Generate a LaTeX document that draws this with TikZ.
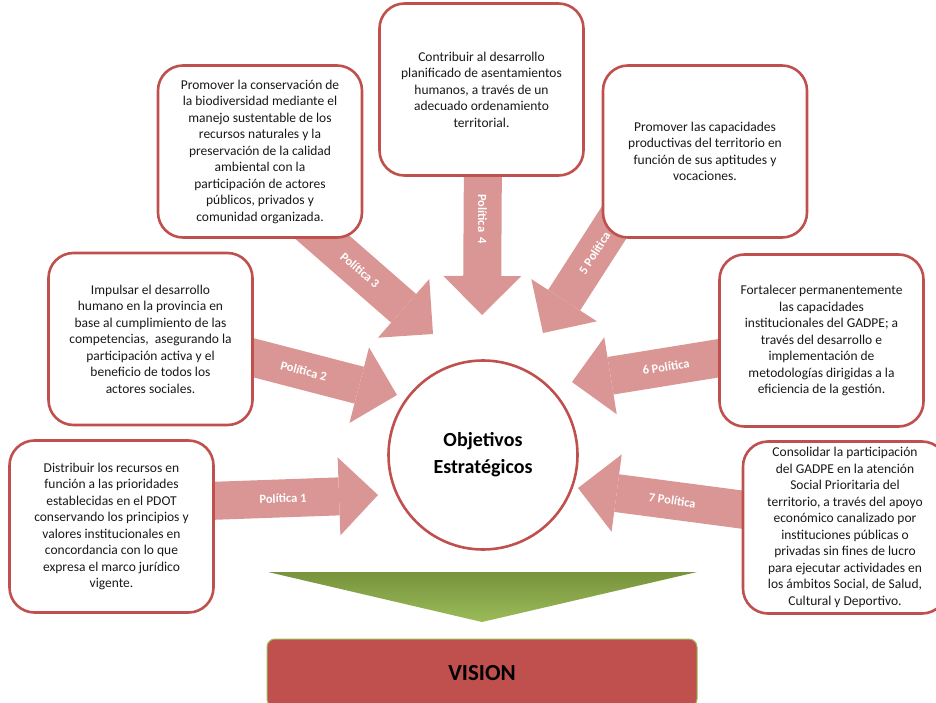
\documentclass[tikz,border=0pt]{standalone}
\usepackage{fontspec}
\setmainfont{Carlito}
\usetikzlibrary{arrows.meta}
\definecolor{boxred}{HTML}{C0504D}
\definecolor{arrowpink}{HTML}{D99694}
\definecolor{greendark}{HTML}{77933C}
\definecolor{greenlight}{HTML}{9BBB59}

\begin{document}
\begin{tikzpicture}[x=1pt, y=-1pt,
  polbox/.style={draw=boxred, line width=2.6pt, fill=white, rounded corners=25pt, minimum width=204pt, minimum height=172pt, align=center, text=black!90, font=\fontsize{13.5}{16.5}\selectfont},
  polarrow/.style={draw=arrowpink, line width=38pt, -{Triangle[length=39pt, width=78pt, line width=0pt]}},
  pollabel/.style={text=white, font=\bfseries\fontsize{12.5}{15}\selectfont}]
\useasboundingbox (0,0) rectangle (936,703);

\coordinate (src1) at (180,502);
\coordinate (tip1) at (378,495);
\coordinate (src2) at (214,347.5);
\coordinate (tip2) at (397,395);
\coordinate (src3) at (290,209);
\coordinate (tip3) at (433,334);
\coordinate (src4) at (483,150);
\coordinate (tip4) at (482,315);
\coordinate (src5) at (635,190);
\coordinate (tip5) at (543,333);
\coordinate (src6) at (760,351.5);
\coordinate (tip6) at (572,382);
\coordinate (src7) at (783,515);
\coordinate (tip7) at (578,488);

\draw[polarrow] (src1) -- (tip1) node[pollabel, pos=0.52, rotate=2] (lab1) {Política 1};
\draw[polarrow] (src2) -- (tip2) node[pollabel, pos=0.49, rotate=-14.6] (lab2) {Política 2};
\draw[polarrow] (src3) -- (tip3) node[pollabel, pos=0.49, rotate=-41] (lab3) {Política 3};
\draw[polarrow] (src4) -- (tip4) node[pollabel, pos=0.42, rotate=-90] (lab4) {Política\ \ 4};
\draw[polarrow] (src5) -- (tip5) node[pollabel, pos=0.44, rotate=57.3] (lab5) {5 Política};
\draw[polarrow] (src6) -- (tip6) node[pollabel, pos=0.5, rotate=9.2] (lab6) {6 Política};
\draw[polarrow] (src7) -- (tip7) node[pollabel, pos=0.54, rotate=-7.6] (lab7) {7 Política};

\node[polbox] (pol1) at (111.5,526.5) {Distribuir los recursos en\\función a las prioridades\\establecidas en el PDOT\\conservando los principios y\\valores institucionales en\\concordancia con lo que\\expresa el marco jurídico\\vigente.};
\node[polbox] (pol2) at (150.5,339) {Impulsar el desarrollo\\humano en la provincia en\\base al cumplimiento de las\\competencias,\ \ asegurando la\\participación activa y el\\beneficio de todos los\\actores sociales.};
\node[polbox] (pol3) at (260,151.5) {Promover la conservación de\\la biodiversidad mediante el\\manejo sustentable de los\\recursos naturales y la\\preservación de la calidad\\ambiental con la\\participación de actores\\públicos, privados y\\comunidad organizada.};
\node[polbox] (pol4) at (481.5,89.5) {Contribuir al desarrollo\\planificado de asentamientos\\humanos, a través de un\\adecuado ordenamiento\\territorial.};
\node[polbox] (pol5) at (705,151.5) {Promover las capacidades\\productivas del territorio en\\función de sus aptitudes y\\vocaciones.};
\node[polbox] (pol6) at (821.5,340.5) {Fortalecer permanentemente\\las capacidades\\institucionales del GADPE; a\\través del desarrollo e\\implementación de\\metodologías dirigidas a la\\eficiencia de la gestión.};
\node[polbox] (pol7) at (845,527.5) {Consolidar la participación\\del GADPE en la atención\\Social Prioritaria del\\territorio, a través del apoyo\\económico canalizado por\\instituciones públicas o\\privadas sin fines de lucro\\para ejecutar actividades en\\los ámbitos Social, de Salud,\\Cultural y Deportivo.};

\node[circle, draw=boxred, line width=2.6pt, fill=white, minimum size=189pt, align=center, font=\bfseries\fontsize{20}{27}\selectfont] (obj) at (483,455) {Objetivos\\Estratégicos};

\shade[top color=greendark, bottom color=greenlight] (268,572) -- (697,572) -- (482,622) -- cycle;

\node[draw=greenlight, line width=1pt, fill=boxred, rounded corners=8pt, minimum width=430pt, minimum height=68pt, font=\bfseries\fontsize{23}{27}\selectfont] (vis) at (482,673) {VISION};

\end{tikzpicture}
\end{document}
